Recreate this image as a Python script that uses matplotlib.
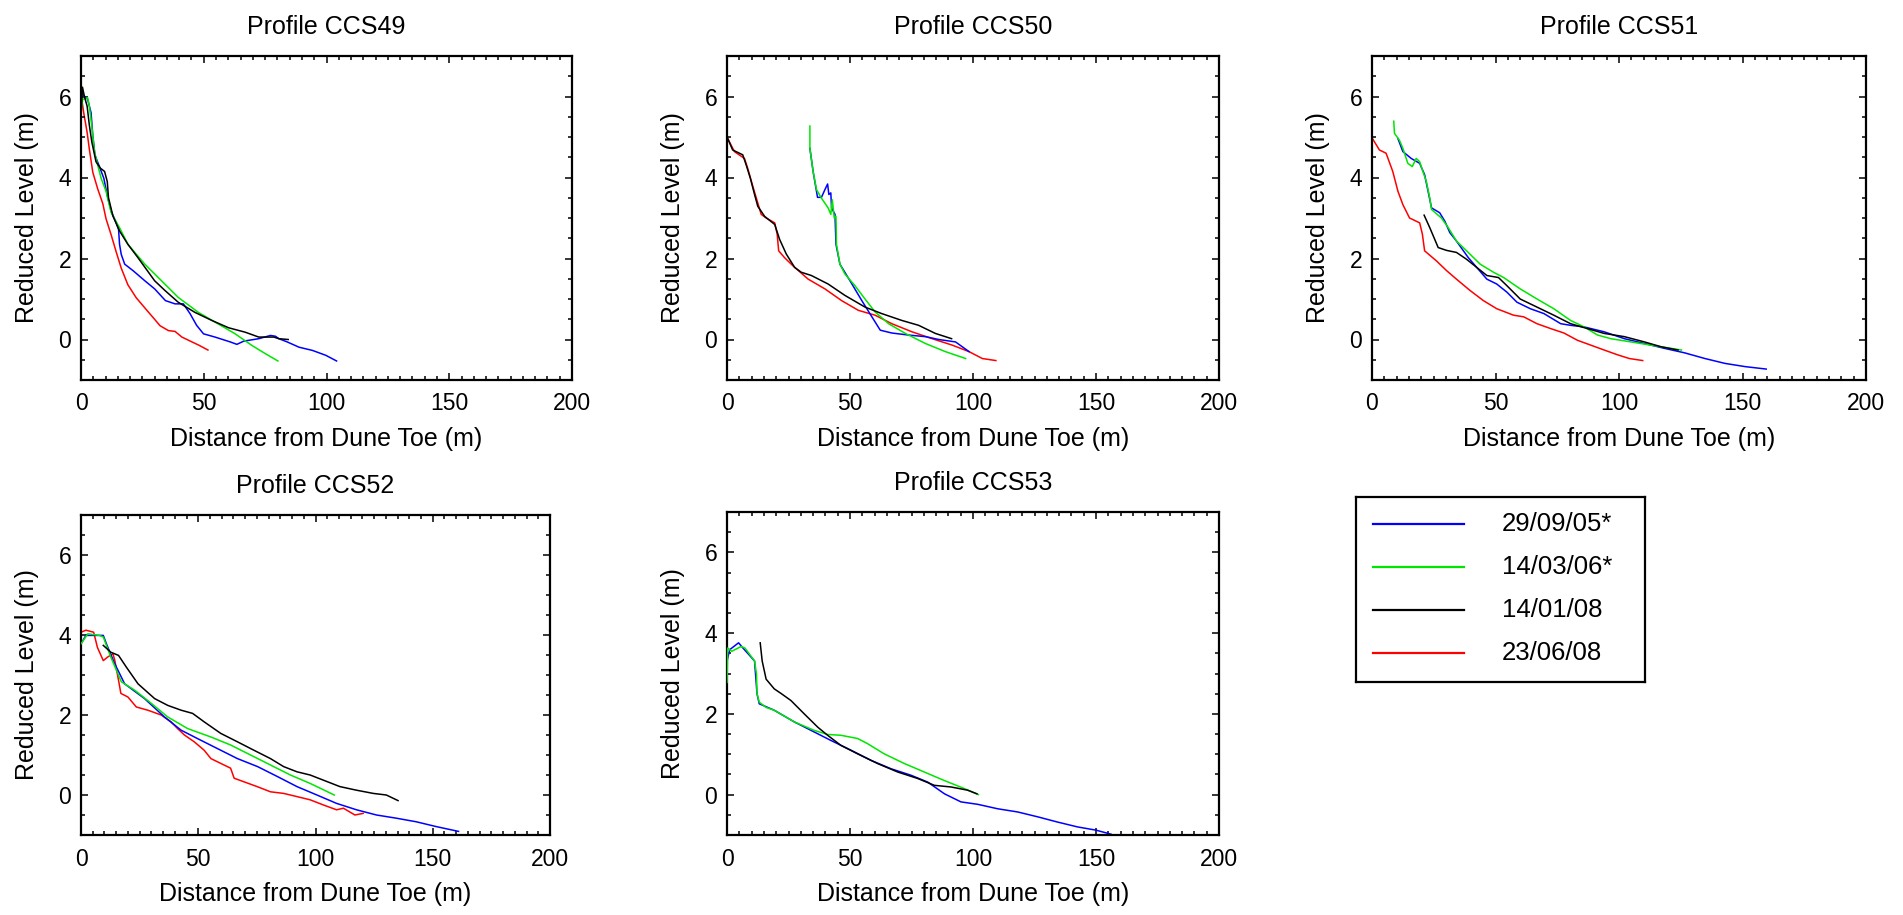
import matplotlib
matplotlib.use('Agg')
import matplotlib.pyplot as plt
from matplotlib.ticker import MultipleLocator

plt.rcParams['font.family'] = ['Liberation Sans', 'DejaVu Sans']

# survey dates (legend order) and colours
dates = ['29/09/05*', '14/03/06*', '14/01/08', '23/06/08']
colors = ['#0000ff', '#00e600', '#000000', '#ff0000']
draw_order = [2, 3, 4, 1]  # zorder: red under blue under green under black

# ---- Profile CCS49 ----
ccs49_290905_x = [0.7, 2.7, 4.1, 4.8, 5.7, 7.5, 9.3, 10.9, 12.3, 14.3, 15.3, 15.7, 16.4, 17.8, 21.2, 26, 30,
                  34.4, 38.3, 41.7, 44.4, 47.1, 49.9, 54.6, 60.8, 63.5, 66.3, 72.4, 77.2, 79.2, 80.6, 84,
                  88.8, 94.3, 99.7, 104.1]
ccs49_290905_y = [6.05, 5.93, 5.6, 5.04, 4.55, 4.27, 3.98, 3.5, 3.17, 2.88, 2.72, 2.35, 2.1, 1.86, 1.7, 1.45,
                  1.25, 0.96, 0.88, 0.88, 0.64, 0.35, 0.14, 0.06, -0.06, -0.12, -0.04, 0.02, 0.1, 0.08, 0.02,
                  -0.06, -0.19, -0.27, -0.39, -0.53]
ccs49_140306_x = [0, 0.7, 2.7, 3.4, 4.4, 5.5, 6.8, 8.2, 10.2, 12.3, 15.7, 19.1, 26, 32.8, 39.6, 47.8, 56,
                  62.8, 69.7, 75.1, 80.2]
ccs49_140306_y = [5.6, 5.93, 5.97, 5.76, 5.27, 4.63, 4.31, 3.98, 3.66, 3.13, 2.76, 2.35, 1.86, 1.45, 1.04,
                  0.67, 0.38, 0.14, -0.15, -0.35, -0.53]
ccs49_140108_x = [0, 0.6, 1.4, 2.5, 3.4, 4.4, 6.1, 7.9, 9.6, 10.7, 11.2, 13, 15.7, 19.1, 23.2, 30, 34.2,
                  39.6, 46.4, 53.3, 60.1, 66.9, 72.4, 78.5, 80.6, 84.4]
ccs49_140108_y = [5.5, 6.23, 6.0, 5.76, 5.29, 4.88, 4.39, 4.23, 4.15, 3.9, 3.5, 3.05, 2.68, 2.35, 2.02, 1.45,
                  1.21, 0.92, 0.67, 0.47, 0.29, 0.18, 0.06, 0.06, 0.02, 0.0]
ccs49_230608_x = [0.3, 1.1, 2.5, 3.4, 4.8, 6.8, 8.9, 10.2, 12.3, 14.3, 16.4, 19.1, 22.5, 26, 29.4, 32.2,
                  35.6, 38.3, 41.1, 45.2, 48, 51.7]
ccs49_230608_y = [5.93, 5.6, 5.11, 4.7, 4.13, 3.72, 3.35, 2.98, 2.58, 2.17, 1.76, 1.35, 1.03, 0.78, 0.54,
                  0.34, 0.22, 0.2, 0.06, -0.06, -0.14, -0.26]

# ---- Profile CCS50 ----
ccs50_290905_x = [33.7, 35, 36.8, 38.4, 39.8, 40.9, 41.4, 42.2, 42.5, 43.2, 43.9, 44.3, 45.9, 50, 54.8,
                  58.9, 62.3, 67, 73.8, 80.7, 86.1, 92.9, 98.4]
ccs50_290905_y = [4.72, 4.15, 3.51, 3.51, 3.7, 3.84, 3.58, 3.62, 3.25, 3.17, 3.09, 2.35, 1.86, 1.45, 0.96,
                  0.56, 0.23, 0.16, 0.11, 0.07, 0.0, -0.06, -0.3]
ccs50_140306_x = [33.7, 33.7, 35, 36.4, 38.4, 41.1, 42.2, 42.8, 43.6, 44.3, 44.5, 45.9, 47.9, 52, 56.1,
                  60.2, 65.7, 72.5, 80.7, 88.8, 97]
ccs50_140306_y = [5.27, 4.72, 4.15, 3.7, 3.49, 3.25, 3.09, 3.45, 3.0, 3.04, 2.35, 1.86, 1.62, 1.33, 1.0,
                  0.68, 0.39, 0.15, -0.1, -0.3, -0.47]
ccs50_140108_x = [0, 2.3, 6.4, 7.8, 9.5, 11.2, 12.5, 15.3, 19.4, 21.4, 24.1, 27.5, 30.2, 34.3, 41.1, 47.9,
                  56.1, 62.9, 71.1, 77.9, 84.7, 91.3]
ccs50_140108_y = [5.0, 4.68, 4.56, 4.31, 3.98, 3.58, 3.29, 3.04, 2.84, 2.47, 2.11, 1.78, 1.66, 1.58, 1.37,
                  1.09, 0.8, 0.64, 0.47, 0.35, 0.15, 0.02]
ccs50_230608_x = [0, 3, 7.1, 8.4, 10.5, 13.9, 15.9, 19.4, 20.4, 21, 23.4, 26.8, 33, 39.8, 46.6, 53.4, 60.2,
                  67, 75.2, 83.4, 91.6, 98.4, 103.8, 109.3]
ccs50_230608_y = [5.0, 4.64, 4.47, 4.23, 3.78, 3.09, 3.0, 2.88, 2.6, 2.19, 2.02, 1.82, 1.49, 1.25, 0.96,
                  0.72, 0.6, 0.39, 0.19, 0.02, -0.14, -0.3, -0.47, -0.52]

# ---- Profile CCS51 ----
ccs51_290905_x = [10.5, 12.5, 15.9, 19.3, 21.3, 22.7, 24.1, 27.4, 29.5, 31.5, 34.2, 39, 42.4, 46.5, 50.5,
                  54.6, 58.7, 64.1, 69.6, 76.4, 80.4, 85.9, 94, 102.2, 110.3, 118.5, 126.6, 134.8, 142.9,
                  151.1, 159.6]
ccs51_290905_y = [4.96, 4.64, 4.47, 4.35, 4.07, 3.66, 3.25, 3.13, 2.92, 2.64, 2.43, 2.02, 1.78, 1.49, 1.37,
                  1.17, 0.92, 0.76, 0.64, 0.39, 0.35, 0.31, 0.19, 0.02, -0.1, -0.22, -0.33, -0.47, -0.59,
                  -0.67, -0.73]
ccs51_140306_x = [8.8, 9.1, 11.1, 12.5, 14.5, 16.3, 17.9, 19.3, 20.6, 22, 23.4, 24.1, 28.1, 30.9, 34.2,
                  38.3, 43.8, 49.2, 53.3, 60, 66.8, 73.6, 80.4, 85.9, 91.3, 96.7, 104.9, 113, 121.2, 125.3]
ccs51_140306_y = [5.39, 5.09, 4.92, 4.72, 4.35, 4.27, 4.47, 4.39, 4.15, 3.9, 3.49, 3.21, 3.0, 2.76, 2.43,
                  2.19, 1.86, 1.66, 1.53, 1.25, 1.0, 0.76, 0.47, 0.31, 0.11, 0.02, -0.06, -0.14, -0.22, -0.26]
ccs51_140108_x = [21.1, 23.4, 26.8, 30.2, 34.2, 38.3, 42.4, 46.5, 51.2, 54.6, 60, 66.8, 73.6, 80.4, 87.2,
                  94, 102.2, 110.3, 117.1, 123.9]
ccs51_140108_y = [3.07, 2.76, 2.27, 2.2, 2.15, 1.98, 1.78, 1.58, 1.53, 1.33, 1.0, 0.8, 0.6, 0.39, 0.27,
                  0.15, 0.07, -0.06, -0.18, -0.26]
ccs51_230608_x = [0, 3, 5.7, 8.4, 10.5, 12.5, 15.2, 19.3, 20.4, 21.3, 26.1, 30.2, 34.2, 39.7, 45.1, 50.5,
                  57.3, 61.4, 66.8, 72.3, 77.7, 83.2, 88.6, 94, 99.5, 104.2, 109.6]
ccs51_230608_y = [4.98, 4.68, 4.6, 4.15, 3.66, 3.33, 3.0, 2.88, 2.6, 2.19, 1.94, 1.7, 1.49, 1.21, 0.96,
                  0.76, 0.6, 0.56, 0.39, 0.27, 0.16, -0.02, -0.14, -0.26, -0.38, -0.47, -0.52]

# ---- Profile CCS52 ----
ccs52_290905_x = [0, 2.1, 9.5, 11.1, 14.4, 18.6, 27.1, 35.6, 42.7, 49.7, 58.2, 66.7, 75.3, 83.8, 92.1,
                  100.6, 109, 117.5, 126, 134.5, 143, 151.5, 161]
ccs52_290905_y = [3.78, 3.99, 3.99, 3.74, 3.28, 2.78, 2.41, 1.95, 1.62, 1.41, 1.16, 0.91, 0.71, 0.46, 0.21,
                  0.0, -0.21, -0.37, -0.5, -0.58, -0.67, -0.79, -0.91]
ccs52_140306_x = [0, 2.9, 7.8, 9.5, 12.7, 17.2, 22.9, 30, 37, 45.5, 55.4, 63.8, 72.3, 80.8, 89.3, 97.7, 108]
ccs52_140306_y = [3.78, 4.03, 3.99, 3.95, 3.45, 2.83, 2.62, 2.29, 1.95, 1.66, 1.45, 1.25, 1.0, 0.75, 0.5,
                  0.29, 0.0]
ccs52_140108_x = [9.5, 12.7, 16, 19.3, 24.3, 31.4, 37, 42.7, 47.6, 52.5, 59.6, 66.7, 73.7, 80.8, 86.4, 92.1,
                  97.7, 103.4, 110.4, 117.5, 124.6, 130.2, 135.2]
ccs52_140108_y = [3.74, 3.57, 3.49, 3.2, 2.78, 2.41, 2.24, 2.12, 2.04, 1.83, 1.54, 1.33, 1.12, 0.91, 0.71,
                  0.58, 0.5, 0.37, 0.21, 0.12, 0.04, 0.0, -0.14]
ccs52_230608_x = [0, 2.1, 5.4, 7, 9.5, 11.4, 13.6, 14.4, 16, 17, 20, 23.6, 28.5, 34.2, 38.4, 41.2, 44.1, 48.3,
                  52.5, 55.4, 61, 63.8, 65.3, 69.5, 75.1, 80.8, 86.4, 92.1, 97.7, 103.4, 109, 111.9, 116.8,
                  120.3]
ccs52_230608_y = [4.07, 4.12, 4.07, 3.69, 3.36, 3.45, 3.53, 3.37, 2.87, 2.54, 2.45, 2.2, 2.12, 2.0, 1.83,
                  1.66, 1.5, 1.33, 1.12, 0.91, 0.75, 0.67, 0.42, 0.33, 0.21, 0.08, 0.04, -0.04, -0.12, -0.25,
                  -0.37, -0.33, -0.5, -0.46]

# ---- Profile CCS53 (no 23/06/08 survey) ----
ccs53_290905_x = [0, 1.1, 4.7, 6.5, 11.2, 12.2, 13.1, 19.2, 27.4, 35.5, 42.3, 50.4, 58.5, 66.7, 74.8, 81.6,
                  88.4, 95.1, 101.9, 110, 118.2, 126.3, 134.4, 142.5, 150, 156.1]
ccs53_290905_y = [3.31, 3.59, 3.76, 3.63, 3.31, 2.5, 2.25, 2.09, 1.8, 1.55, 1.34, 1.1, 0.85, 0.64, 0.48,
                  0.31, 0.02, -0.18, -0.24, -0.35, -0.43, -0.55, -0.68, -0.8, -0.88, -0.98]
ccs53_140306_x = [0, 0.3, 1.9, 5.8, 7.3, 11.2, 12, 12.2, 13.1, 15.9, 19.2, 27.4, 35.5, 40.9, 46.3, 53.1,
                  57.2, 63.9, 72.1, 80.2, 88.3, 96.5, 102.2]
ccs53_140306_y = [2.78, 3.63, 3.55, 3.67, 3.63, 3.31, 2.98, 2.5, 2.29, 2.16, 2.09, 1.8, 1.59, 1.49, 1.47,
                  1.39, 1.26, 1.01, 0.77, 0.56, 0.35, 0.15, 0.0]
ccs53_140108_x = [13.5, 14.3, 15.9, 19.2, 22.1, 26, 31.4, 36.9, 40.9, 46.3, 53.1, 61.2, 69.4, 77.5, 84.3,
                  91, 97.8, 101.6]
ccs53_140108_y = [3.76, 3.31, 2.86, 2.62, 2.5, 2.33, 2.0, 1.67, 1.47, 1.22, 1.01, 0.77, 0.56, 0.4, 0.23,
                  0.19, 0.11, 0.02]

profiles = [
    ('Profile CCS49', [(ccs49_290905_x, ccs49_290905_y), (ccs49_140306_x, ccs49_140306_y),
                       (ccs49_140108_x, ccs49_140108_y), (ccs49_230608_x, ccs49_230608_y)]),
    ('Profile CCS50', [(ccs50_290905_x, ccs50_290905_y), (ccs50_140306_x, ccs50_140306_y),
                       (ccs50_140108_x, ccs50_140108_y), (ccs50_230608_x, ccs50_230608_y)]),
    ('Profile CCS51', [(ccs51_290905_x, ccs51_290905_y), (ccs51_140306_x, ccs51_140306_y),
                       (ccs51_140108_x, ccs51_140108_y), (ccs51_230608_x, ccs51_230608_y)]),
    ('Profile CCS52', [(ccs52_290905_x, ccs52_290905_y), (ccs52_140306_x, ccs52_140306_y),
                       (ccs52_140108_x, ccs52_140108_y), (ccs52_230608_x, ccs52_230608_y)]),
    ('Profile CCS53', [(ccs53_290905_x, ccs53_290905_y), (ccs53_140306_x, ccs53_140306_y),
                       (ccs53_140108_x, ccs53_140108_y), None]),
]

W, H = 1903, 915
# axes boxes in pixels: left, top, right, bottom
boxes = [(81, 56, 572, 380), (727, 56, 1219, 380), (1372, 56, 1866, 380),
         (81, 515, 550, 835), (727, 512, 1219, 835)]

def px_rect(l, t, r, b):
    return [l / W, 1 - b / H, (r - l) / W, (b - t) / H]

fig = plt.figure(figsize=(W / 100, H / 100), dpi=100)

for (title, series), box in zip(profiles, boxes):
    ax = fig.add_axes(px_rect(*box))
    for i, s in enumerate(series):
        if s is None:
            continue
        ax.plot(s[0], s[1], color=colors[i], lw=1.1, zorder=draw_order[i])
    ax.set_xlim(0, 200)
    ax.set_ylim(-1, 7)
    ax.xaxis.set_major_locator(MultipleLocator(50))
    ax.xaxis.set_minor_locator(MultipleLocator(5))
    ax.set_yticks([0, 2, 4, 6])
    ax.yaxis.set_minor_locator(MultipleLocator(0.5))
    ax.tick_params(which='both', direction='in', top=True, right=True, width=1.1, labelsize=16.5)
    ax.tick_params(which='major', length=5)
    ax.tick_params(which='minor', length=3)
    ax.tick_params(axis='x', pad=9)
    ax.tick_params(axis='y', pad=7)
    for sp in ax.spines.values():
        sp.set_linewidth(1.6)
    ax.set_title(title, fontsize=18, pad=16)
    ax.set_xlabel('Distance from Dune Toe (m)', fontsize=18, labelpad=8)
    ax.set_ylabel('Reduced Level (m)', fontsize=18, labelpad=14)

# legend box drawn as its own axes
lax = fig.add_axes(px_rect(1356, 497, 1645, 682))
lax.set_xlim(0, 1)
lax.set_ylim(0, 1)
lax.set_xticks([])
lax.set_yticks([])
for sp in lax.spines.values():
    sp.set_linewidth(1.6)
for i, (lab, c) in enumerate(zip(dates, colors)):
    yy = 0.854 - i * 0.2324
    lax.plot([0.059, 0.374], [yy, yy], color=c, lw=1.6)
    lax.text(0.505, yy, lab, fontsize=18.5, va='center', ha='left')

fig.savefig('out.png', dpi=100)
